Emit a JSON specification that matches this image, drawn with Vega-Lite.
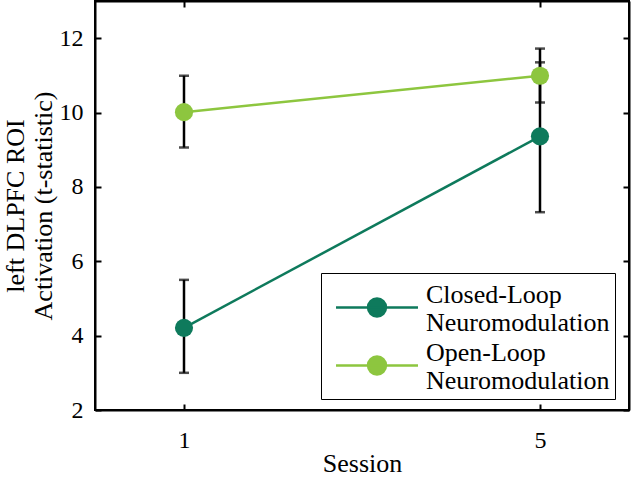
{
  "$schema": "https://vega.github.io/schema/vega-lite/v6.json",
  "width": 534,
  "height": 409,
  "autosize": "none",
  "padding": {"left": 95, "top": 1, "right": 2, "bottom": 68},
  "background": "white",
  "config": {
    "view": {"stroke": "black", "strokeWidth": 2},
    "font": "Liberation Serif",
    "axis": {
      "grid": false,
      "domain": false,
      "domainColor": "black",
      "domainWidth": 2,
      "tickColor": "black",
      "tickWidth": 2,
      "tickSize": 6,
      "labelColor": "black",
      "titleColor": "black",
      "labelFont": "Liberation Serif",
      "titleFont": "Liberation Serif",
      "labelFontSize": 24,
      "titleFontSize": 26,
      "titleFontWeight": "normal"
    },
    "legend": {
      "orient": "none",
      "legendX": 226,
      "legendY": 272,
      "title": null,
      "symbolType": "M-1.464,0L1.464,0M-0.32,0A0.32,0.32,0,1,1,0.32,0A0.32,0.32,0,1,1,-0.32,0",
      "symbolSize": 3136,
      "symbolStrokeWidth": 2.5,
      "labelFont": "Liberation Serif",
      "labelFontSize": 26,
      "labelColor": "black",
      "labelLimit": 0,
      "labelOffset": 19.5,
      "labelBaseline": "bottom",
      "strokeColor": "black",
      "fillColor": "white",
      "padding": 5,
      "symbolOffset": 21.5,
      "rowPadding": 0
    }
  },
  "data": {
    "values": [
      {"group": "Closed-Loop Neuromodulation", "session": 1, "mean": 4.21, "lo": 3.0, "hi": 5.5},
      {"group": "Closed-Loop Neuromodulation", "session": 5, "mean": 9.36, "lo": 7.32, "hi": 11.35},
      {"group": "Open-Loop Neuromodulation", "session": 1, "mean": 10.01, "lo": 9.06, "hi": 10.99},
      {"group": "Open-Loop Neuromodulation", "session": 5, "mean": 10.99, "lo": 10.27, "hi": 11.72}
    ]
  },
  "layer": [
    {
      "mark": {"type": "rule", "color": "black", "strokeWidth": 2.5},
      "encoding": {
        "x": {"field": "session", "type": "quantitative", "scale": {"domain": [0, 6]},
              "axis": {"orient": "bottom", "values": [1, 5], "offset": -6, "labelPadding": 18, "title": "Session", "titlePadding": -2}},
        "y": {"field": "lo", "type": "quantitative", "scale": {"domain": [2, 13]},
              "axis": {"orient": "left", "values": [2, 4, 6, 8, 10, 12], "offset": -6, "labelPadding": 12, "title": ["left DLPFC ROI", "Activation (t-statistic)"], "titleLineHeight": 28, "titlePadding": 3}},
        "y2": {"field": "hi"}
      }
    },
    {
      "mark": {"type": "tick", "orient": "horizontal", "color": "black", "size": 10, "thickness": 2.5},
      "encoding": {
        "x": {"field": "session", "type": "quantitative",
              "axis": {"orient": "bottom", "domain": true, "ticks": false, "labels": false, "title": null}},
        "y": {"field": "lo", "type": "quantitative",
              "axis": {"orient": "left", "domain": true, "ticks": false, "labels": false, "title": null}}
      }
    },
    {
      "mark": {"type": "tick", "orient": "horizontal", "color": "black", "size": 10, "thickness": 2.5},
      "encoding": {
        "x": {"field": "session", "type": "quantitative",
              "axis": {"orient": "top", "domain": true, "ticks": false, "labels": false, "title": null}},
        "y": {"field": "hi", "type": "quantitative",
              "axis": {"orient": "right", "domain": true, "ticks": false, "labels": false, "title": null}}
      }
    },
    {
      "mark": {"type": "line", "strokeWidth": 2.5},
      "encoding": {
        "x": {"field": "session", "type": "quantitative", "axis": null},
        "y": {"field": "mean", "type": "quantitative", "axis": null},
        "color": {"field": "group", "type": "nominal",
                  "scale": {"domain": ["Closed-Loop Neuromodulation", "Open-Loop Neuromodulation"], "range": ["#0E7A5C", "#8DC63F"]},
                  "legend": {"labelExpr": "split(datum.label, ' ')"}}
      }
    },
    {
      "mark": {"type": "point", "filled": true, "size": 330, "opacity": 1},
      "encoding": {
        "x": {"field": "session", "type": "quantitative",
              "axis": {"orient": "top", "values": [1, 5], "offset": -6, "labels": false, "title": null}},
        "y": {"field": "mean", "type": "quantitative",
              "axis": {"orient": "right", "values": [2, 4, 6, 8, 10, 12], "offset": -6, "labels": false, "title": null}},
        "color": {"field": "group", "type": "nominal",
                  "legend": {"labelExpr": "split(datum.label, ' ')"}}
      }
    }
  ],
  "resolve": {"axis": {"x": "independent", "y": "independent"}}
}
